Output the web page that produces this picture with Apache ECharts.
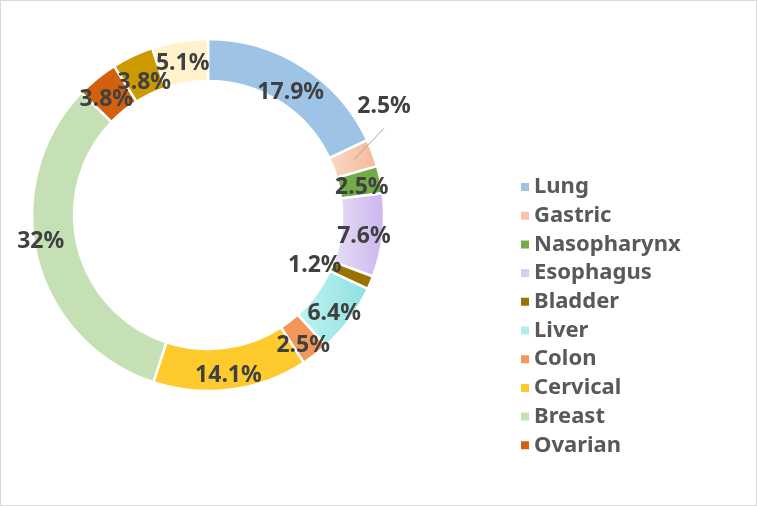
<!DOCTYPE html>
<html><head><meta charset="utf-8">
<script src="https://cdn.jsdelivr.net/npm/echarts@6/dist/echarts.min.js"></script>
<style>
html,body{margin:0;padding:0;background:#fff;}
#c{width:755px;height:504px;border:1px solid #d9d9d9;}
</style></head>
<body><div id="c"></div>
<script>
const categories = ['Lung','Gastric','Nasopharynx','Esophagus','Bladder','Liver','Colon','Cervical','Breast','Ovarian','Other A','Other B'];
const values = [17.9, 2.5, 2.5, 7.6, 1.2, 6.4, 2.5, 14.1, 32, 3.8, 3.8, 5.1];
const legendNames = ['Lung','Gastric','Nasopharynx','Esophagus','Bladder','Liver','Colon','Cervical','Breast','Ovarian'];
// label nudges (style only), in px
const labelNudge = [[-2,11],[0,0],[-1,4],[-1,3],[-39,-10],[-1,5],[-1,5],[0,4],[-14,-12],[-2,7],[4,10],[0,4]];
const grad = (a,b)=>new echarts.graphic.LinearGradient(0,0,1,0,[{offset:0,color:a},{offset:1,color:b}]);
const colors = ['#9dc3e6', grad('#fad9c6','#f4b994'), '#70ad47', grad('#e9def6','#cbb5ef'), '#997300', grad('#bff4f2','#8fe0e0'), '#f1975a', '#ffca2e', '#c5e0b4', '#d2600f', '#cc9900', '#fff2cc'];
const legendColors = ['#9dc3e6','#f6c4a6','#70ad47','#dacbf3','#997300','#aeeeed','#f1975a','#ffca2e','#c5e0b4','#d2600f'];
const font = '"Noto Sans", "Open Sans", sans-serif';
const CX = 207, CY = 214, R0 = 134, R1 = 176;
const total = values.reduce((a,b)=>a+b,0);
function midAngle(i){ let s=0; for(let k=0;k<i;k++) s+=values[k]; return (s+values[i]/2)/total*2*Math.PI; }
const labelStyle = {fontFamily:font, fontWeight:'bold', fontSize:23, color:'#404040'};
const chart = echarts.init(document.getElementById('c'));
// main ring with inside labels
const ringData = categories.map((n,i)=>({
  name:n, value:values[i], itemStyle:{color:colors[i]},
  label:{show: n!=='Gastric'}
}));
// overlay series (transparent) carrying only the Gastric callout so its leader line sits above the ring
const calloutData = categories.map((n,i)=>{
  const d = {name:n, value:values[i], label:{show:false}, labelLine:{show:false}};
  if(n==='Gastric'){
    d.label = {show:true, position:'outside'};
    d.labelLine = {show:true, length:10, length2:0, lineStyle:{color:'#a6a6a6', width:1}};
  }
  return d;
});
chart.setOption({
  animation:false,
  legend:{
    orient:'vertical', left:513, top:170, data:legendNames.map((n,i)=>({name:n, itemStyle:{color:legendColors[i]}})),
    icon:'rect', itemWidth:10, itemHeight:10, itemGap:6.7, selectedMode:false,
    textStyle:{fontFamily:font, fontWeight:'bold', fontSize:22, color:'#595959', padding:[0,0,0,-1]}
  },
  series:[{
    type:'pie', z:2, center:[CX,CY], radius:[R0,R1], startAngle:90, clockwise:true,
    avoidLabelOverlap:false,
    itemStyle:{borderColor:'#fff', borderWidth:2.5},
    label:Object.assign({show:true, position:'inside', formatter:'{c}%'}, labelStyle),
    labelLine:{show:false},
    labelLayout:function(p){
      const i = p.dataIndex;
      return {dx:labelNudge[i][0], dy:labelNudge[i][1], hideOverlap:false};
    },
    emphasis:{disabled:true},
    data:ringData
  },{
    type:'pie', z:5, center:[CX,CY], radius:[R0,R1], startAngle:90, clockwise:true,
    avoidLabelOverlap:false, silent:true,
    itemStyle:{color:'rgba(0,0,0,0)', borderWidth:0},
    label:Object.assign({formatter:'{c}%'}, labelStyle),
    labelLayout:function(p){
      const i = p.dataIndex;
      if(categories[i]!=='Gastric') return {hideOverlap:false};
      const a = midAngle(i), rm = (R0+R1)/2;
      const sx = CX + rm*Math.sin(a), sy = CY - rm*Math.cos(a);
      const lx = sx + 31, ly = sy - 54;
      return {x:lx, y:ly, align:'center', verticalAlign:'middle', hideOverlap:false,
        labelLinePoints:[[sx,sy],[lx,ly+22],[lx,ly+22]]};
    },
    emphasis:{disabled:true},
    data:calloutData
  }]
});
</script></body></html>
